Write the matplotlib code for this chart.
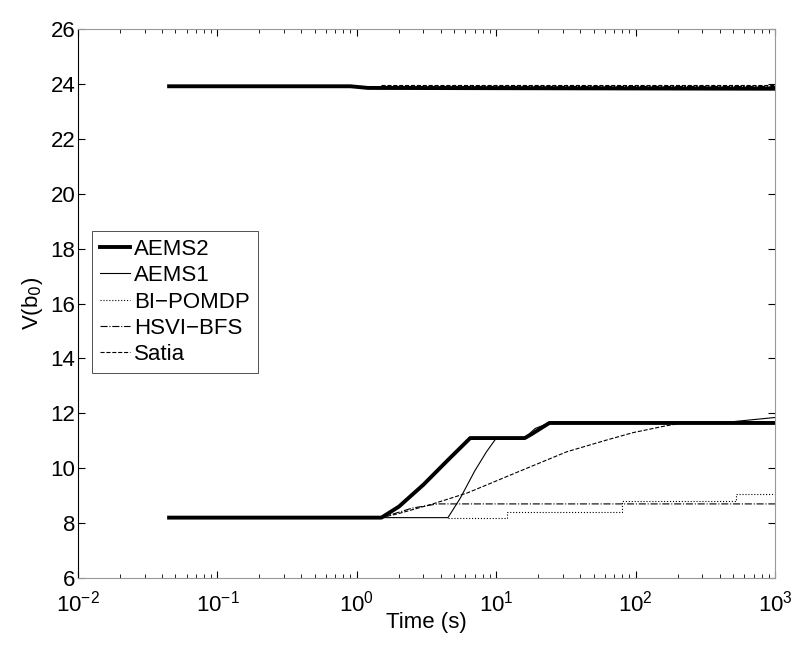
import numpy as np
import matplotlib.pyplot as plt

plt.rcParams['font.family'] = ['Liberation Sans', 'DejaVu Sans']

# lower bounds (time in s, value)
aems2_lo_t = [0.045, 1.5, 2.0, 3.0, 4.5, 6.5, 16, 18, 24, 1000]
aems2_lo_v = [8.2, 8.2, 8.6, 9.4, 10.3, 11.1, 11.1, 11.25, 11.65, 11.65]
aems1_lo_t = [0.045, 4.5, 5.5, 7.0, 8.5, 10.0, 16, 19, 24, 400, 1000]
aems1_lo_v = [8.2, 8.2, 8.9, 9.9, 10.6, 11.1, 11.1, 11.45, 11.65, 11.65, 11.85]
bipomdp_lo_t = [4.5, 12, 12, 80, 80, 520, 520, 1000]
bipomdp_lo_v = [8.2, 8.2, 8.4, 8.4, 8.8, 8.8, 9.05, 9.05]
hsvi_lo_t = [1.5, 2.5, 3.8, 1000]
hsvi_lo_v = [8.2, 8.55, 8.7, 8.7]
satia_lo_t = [1.5, 2.0, 3.5, 6.2, 15.5, 32, 62, 96, 166, 220, 1000]
satia_lo_v = [8.2, 8.35, 8.7, 9.1, 9.94, 10.6, 11.03, 11.3, 11.55, 11.65, 11.65]

# upper bounds
aems2_up_t = [0.045, 0.9, 1.2, 1000]
aems2_up_v = [23.92, 23.92, 23.86, 23.83]
aems1_up_t = [0.045, 0.9, 1.2, 1000]
aems1_up_v = [23.92, 23.92, 23.87, 23.86]
bipomdp_up_t = [4.5, 1000]
bipomdp_up_v = [23.93, 23.93]
hsvi_up_t = [1.5, 1000]
hsvi_up_v = [23.92, 23.92]
satia_up_t = [1.5, 1000]
satia_up_v = [23.95, 23.95]

fig = plt.figure(figsize=(8, 6.49), dpi=100)
ax = fig.add_axes([0.0975, 0.1094, 0.8715, 0.8456])

ax.plot(satia_up_t, satia_up_v, 'k--', lw=0.8)
ax.plot(bipomdp_up_t, bipomdp_up_v, 'k:', lw=0.8)
ax.plot(hsvi_up_t, hsvi_up_v, 'k-.', lw=0.8)
ax.plot(aems1_up_t, aems1_up_v, 'k-', lw=0.8)
ax.plot(aems2_up_t, aems2_up_v, 'k-', lw=2.8)

ax.plot(satia_lo_t, satia_lo_v, 'k--', lw=0.8, label='Satia')
ax.plot(hsvi_lo_t, hsvi_lo_v, 'k-.', lw=0.8, label='HSVI\u2212BFS')
ax.plot(bipomdp_lo_t, bipomdp_lo_v, 'k:', lw=0.8, label='BI\u2212POMDP')
ax.plot(aems1_lo_t, aems1_lo_v, 'k-', lw=0.8, label='AEMS1')
ax.plot(aems2_lo_t, aems2_lo_v, 'k-', lw=2.8, label='AEMS2')

ax.set_xscale('log')
ax.set_xlim(1e-2, 1e3)
ax.set_ylim(6, 26)
ax.set_yticks(range(6, 27, 2))
ax.tick_params(which='both', direction='in', top=True, right=True, labelsize=16)
ax.tick_params(which='major', length=5)
ax.tick_params(which='minor', length=3)
ax.tick_params(axis='y', pad=2)
ax.tick_params(axis='x', pad=9)
for s in ['top', 'right', 'bottom']:
    ax.spines[s].set_color('#999999')
ax.spines['left'].set_color('black')

ax.set_xlabel('Time (s)', fontsize=16, labelpad=-3)
ax.set_ylabel('V(b$_0$)', fontsize=16, labelpad=4)

h, l = ax.get_legend_handles_labels()
leg = ax.legend(h[::-1], l[::-1], loc='upper left', bbox_to_anchor=(0.02, 0.632),
                fontsize=16, frameon=True, fancybox=False, edgecolor='black',
                handlelength=1.35, handletextpad=0.2, borderpad=0.35, labelspacing=0.24,
                borderaxespad=0)
leg.get_frame().set_linewidth(0.6)

plt.savefig('out.png', dpi=100)
